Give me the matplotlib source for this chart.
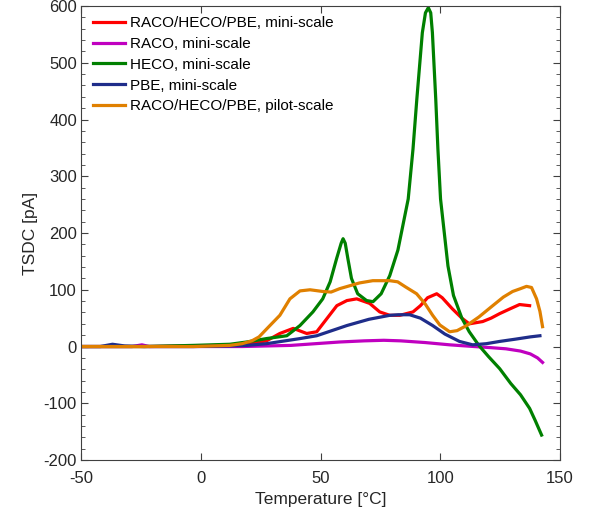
import matplotlib.pyplot as plt
from matplotlib.ticker import MultipleLocator

plt.rcParams['font.family'] = ['Liberation Sans', 'DejaVu Sans']
plt.rcParams['axes.unicode_minus'] = False

# RACO/HECO/PBE, mini-scale
red_t = [-50, -23.6, -3.2, 17.2, 27.4, 33.0, 38.6, 44.2, 48.4, 52.6, 56.8, 61.0, 65.1, 70.5, 74.7, 78.9, 83.1,
         88.6, 91.7, 94.7, 98.5, 100.8, 104.9, 109.0, 112.1, 117.7, 121.2, 124.8, 128.9, 133.1, 137.3]
red_v = [0, 0, 1, 3, 10, 23, 32, 23, 26, 49, 72, 81, 84, 76, 61, 55, 55,
         61, 72, 86, 93, 86, 67, 50, 40, 44, 50, 58, 66, 74, 72]

# RACO, mini-scale
mag_t = [-50, -28.7, -24.6, -21.6, -3.2, 17.2, 27.4, 37.6, 47.8, 58, 68.2, 76.4, 83.5, 93.7, 103.9, 114.1,
         121.2, 127.4, 133.5, 137.6, 140.6, 142.7]
mag_v = [0, 0, 3, 0, 0, 0, 1, 2, 5, 8, 10, 11, 10, 7, 3, 0, -2, -4, -8, -13, -20, -28]

# HECO, mini-scale
grn_t = [-50, -23.6, -3.2, 12.1, 19.2, 27.4, 35.9, 41.4, 46.8, 50.9, 54.0, 56.7, 58.6, 59.4, 60.3, 61.4, 62.9,
         65.5, 69.2, 71.9, 75.3, 78.9, 82.3, 86.6, 88.6, 90.2, 92.5, 93.8, 95.0, 96.0, 96.7, 98.1, 99.0, 100.1,
         103.2, 105.5, 109.0, 112.1, 116.1, 120.2, 124.8, 129.4, 133.5, 137.3, 139.6, 142.3]
grn_v = [0, 0, 2, 4, 8, 14, 19, 37, 61, 84, 114, 155, 182, 190, 182, 155, 120,
         93, 81, 79, 93, 125, 170, 260, 348, 436, 553, 588, 597, 588, 553, 436, 348, 260,
         142, 90, 50, 26, 2, -18, -39, -65, -85, -109, -130, -156]

# PBE, mini-scale
blu_t = [-50, -42, -36.9, -31.8, -23.6, -3.2, 12.1, 19.2, 27.4, 41.4, 48.4, 61.0, 70.2, 78.9, 82.5, 87.2, 91.7,
         96.8, 101.9, 108.0, 113.5, 119.2, 124.8, 131.4, 137.6, 141.6]
blu_v = [0, 0, 4, 1, 0, 0, 1, 2, 5, 14, 19, 37, 48, 55, 56, 56, 50, 37, 22, 9, 3, 5, 9, 13, 17, 19]

# RACO/HECO/PBE, pilot-scale
org_t = [-50, -23.6, -3.2, 12.1, 17.2, 21.3, 24.3, 28.4, 33.0, 37.2, 41.4, 45.6, 50.9, 54.4, 58.0, 62.1, 66.2,
         71.8, 78.9, 82.2, 85.5, 90.1, 93.7, 96.8, 99.8, 103.9, 107.0, 111.0, 116.1, 121.9, 126.3, 130.2, 133.5,
         136.0, 138.1, 140.2, 141.6, 142.7]
org_v = [0, 0, 0, 2, 5, 10, 17, 35, 55, 84, 98, 100, 97, 96, 102, 107, 112,
         116, 116, 114, 105, 93, 75, 55, 38, 26, 28, 37, 52, 72, 87, 97, 102,
         106, 104, 84, 62, 35]

fig = plt.figure(figsize=(5.92, 5.21), dpi=100)
ax = fig.add_axes([0.137, 0.117, 0.809, 0.8715])

lw = 2.3
ax.plot(red_t, red_v, color='#ff0000', lw=lw, label='RACO/HECO/PBE, mini-scale')
ax.plot(mag_t, mag_v, color='#c000c0', lw=lw, label='RACO, mini-scale')
ax.plot(grn_t, grn_v, color='#008000', lw=lw, label='HECO, mini-scale')
ax.plot(blu_t, blu_v, color='#1f2d8a', lw=lw, label='PBE, mini-scale')
ax.plot(org_t, org_v, color='#e08000', lw=lw, label='RACO/HECO/PBE, pilot-scale')

ax.set_xlim(-50, 150)
ax.set_ylim(-200, 600)
ax.xaxis.set_major_locator(MultipleLocator(50))
ax.yaxis.set_major_locator(MultipleLocator(100))
ax.yaxis.set_minor_locator(MultipleLocator(20))
ax.tick_params(which='both', direction='in', top=True, right=True, colors='#404040',
               labelcolor='#262626', labelsize=12)
ax.tick_params(which='major', length=5)
ax.tick_params(which='minor', length=3)
ax.tick_params(axis='x', pad=8)
ax.tick_params(axis='y', pad=3)
for s in ax.spines.values():
    s.set_color('#404040')

ax.set_xlabel('Temperature [°C]', fontsize=12.5, color='#262626', labelpad=4)
ax.set_ylabel('TSDC [pA]', fontsize=12.5, color='#262626', labelpad=4)

ax.legend(loc='upper left', frameon=False, fontsize=11, handlelength=2.1, handletextpad=0.3,
          labelspacing=0.45, borderpad=0, borderaxespad=0, bbox_to_anchor=(0.025, 0.978))

fig.savefig('out.png', dpi=100)
